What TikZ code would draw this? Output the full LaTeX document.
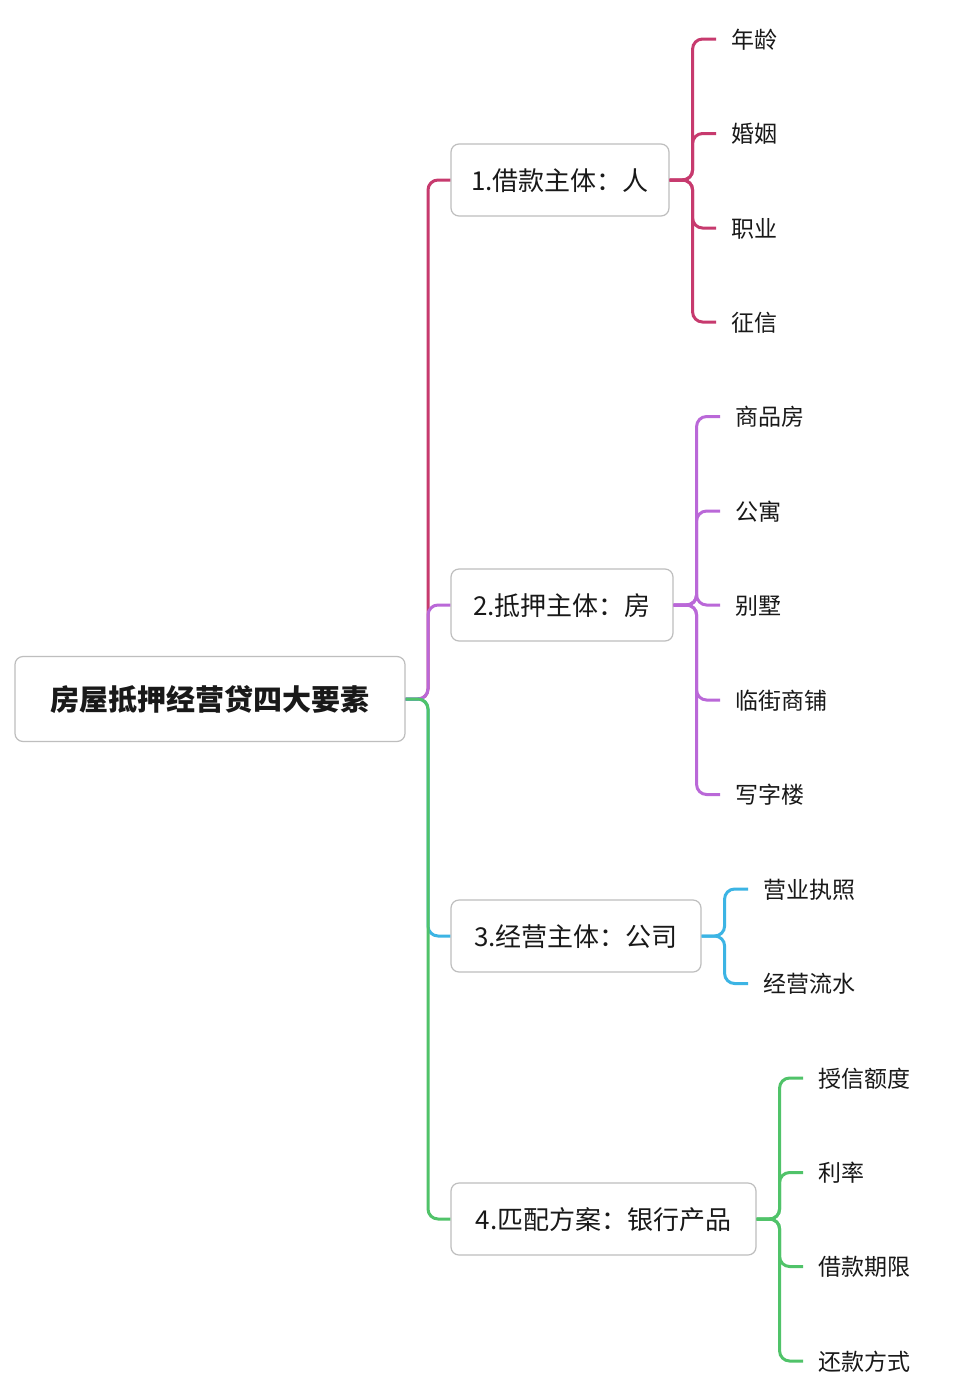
\documentclass[tikz,border=0pt]{standalone}
\usepackage{fontspec}
\setmainfont{Noto Sans CJK SC}
\definecolor{c1}{RGB}{199,58,110}
\definecolor{c2}{RGB}{186,104,216}
\definecolor{c3}{RGB}{60,180,228}
\definecolor{c4}{RGB}{80,195,105}
\definecolor{boxgray}{RGB}{190,190,190}
\definecolor{txt}{RGB}{25,25,25}
\begin{document}
\begin{tikzpicture}[x=1pt,y=-1pt,
  box/.style={draw=boxgray, line width=1.2pt, rounded corners=8pt, fill=white,
    minimum height=72pt, inner sep=0pt, font=\fontsize{26}{30}\selectfont, text=txt,
    text height=22pt, text depth=2pt},
  leaf/.style={anchor=west, inner xsep=15pt, inner ysep=0pt,
    font=\fontsize{23}{28}\selectfont, text=txt, text height=19.5pt, text depth=1.5pt},
  conn/.style={line width=3pt, rounded corners=10pt}]
\useasboundingbox[fill=white] (0,0) rectangle (978,1387);

% root and branches
\node[box, minimum width=390pt, minimum height=85pt,
  font=\bfseries\fontsize{29}{34}\selectfont, text height=25pt, text depth=2pt] (root) at (210,699) {房屋抵押经营贷四大要素};
\node[box, minimum width=218pt] (b1) at (560,180) {1.借款主体：人};
\node[box, minimum width=222pt] (b2) at (562,605) {2.抵押主体：房};
\node[box, minimum width=250pt] (b3) at (576,936) {3.经营主体：公司};
\node[box, minimum width=305pt] (b4) at (603.5,1219) {4.匹配方案：银行产品};

\coordinate (t) at (428,699);
\draw[conn,c1] (root.east) -- (t) |- (b1.west);
\draw[conn,c2] (root.east) -- (t) |- (b2.west);
\draw[conn,c3] (root.east) -- (t) |- (b3.west);
\draw[conn,c4] (root.east) -- (t) |- (b4.west);

% group 1
\coordinate (j1) at ([xshift=23pt]b1.east);
\node[leaf] (l11) at (716,39) {年龄};
\node[leaf] (l12) at (716,133.5) {婚姻};
\node[leaf] (l13) at (716,228) {职业};
\node[leaf] (l14) at (716,322) {征信};
\foreach \n in {l11,l12,l13,l14} \draw[conn,c1] (b1.east) -- (j1) |- (\n.west);

% group 2
\coordinate (j2) at ([xshift=23pt]b2.east);
\node[leaf] (l21) at (720,416.5) {商品房};
\node[leaf] (l22) at (720,511) {公寓};
\node[leaf] (l23) at (720,605) {别墅};
\node[leaf] (l24) at (720,700) {临街商铺};
\node[leaf] (l25) at (720,794.5) {写字楼};
\foreach \n in {l21,l22,l23,l24,l25} \draw[conn,c2] (b2.east) -- (j2) |- (\n.west);

% group 3
\coordinate (j3) at ([xshift=23pt]b3.east);
\node[leaf] (l31) at (748,889) {营业执照};
\node[leaf] (l32) at (748,983.5) {经营流水};
\foreach \n in {l31,l32} \draw[conn,c3] (b3.east) -- (j3) |- (\n.west);

% group 4
\coordinate (j4) at ([xshift=23pt]b4.east);
\node[leaf] (l41) at (803,1078) {授信额度};
\node[leaf] (l42) at (803,1172.5) {利率};
\node[leaf] (l43) at (803,1266.5) {借款期限};
\node[leaf] (l44) at (803,1361) {还款方式};
\foreach \n in {l41,l42,l43,l44} \draw[conn,c4] (b4.east) -- (j4) |- (\n.west);
\end{tikzpicture}
\end{document}
